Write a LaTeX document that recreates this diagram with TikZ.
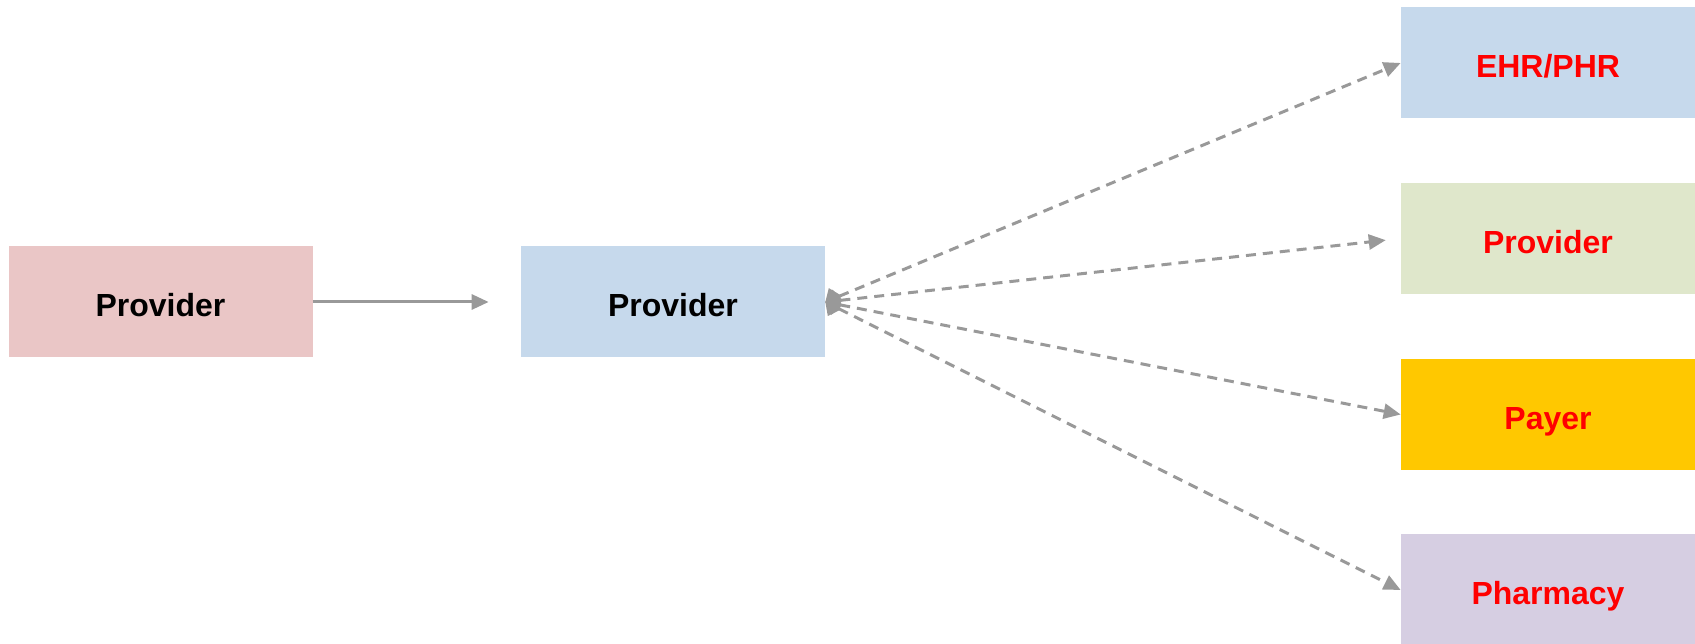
\documentclass[tikz,border=0pt]{standalone}
\usepackage{fontspec}
\setmainfont{Liberation Sans}
\usetikzlibrary{arrows.meta}

\definecolor{pinkfill}{HTML}{EAC6C6}
\definecolor{bluefill}{HTML}{C6D9EC}
\definecolor{greenfill}{HTML}{DFE7CB}
\definecolor{yellowfill}{HTML}{FFC800}
\definecolor{purplefill}{HTML}{D6CEE2}
\definecolor{arrowgray}{HTML}{999999}

\begin{document}
\begin{tikzpicture}
    % Define styles
    \tikzset{
        party/.style={draw=none, minimum width=6.08cm, minimum height=2.22cm, align=center, text height=0.6cm, text depth=0pt, font=\fontsize{18.2}{22}\selectfont\bfseries},
        target/.style={party, minimum width=5.88cm, text=red},
        flowarrow/.style={-{Triangle[length=0.34cm, width=0.3cm]}, draw=arrowgray, line width=1.7pt},
        linkarrow/.style={{Diamond[length=0.34cm, width=0.46cm]}-{Triangle[length=0.34cm, width=0.3cm]}, draw=arrowgray, line width=1.7pt, dash pattern=on 0.2cm off 0.14cm}
    }

    % Frame
    \useasboundingbox (0,0) rectangle (33.9,12.88);

    % Sender and hub
    \node[party, fill=pinkfill] (src) at (3.21,6.84) {Provider};
    \node[party, fill=bluefill] (prov) at (13.46,6.84) {Provider};

    % Receivers
    \node[target, fill=bluefill] (ehr) at (30.96,11.62) {EHR/PHR};
    \node[target, fill=greenfill] (rprov) at (30.96,8.11) {Provider};
    \node[target, fill=yellowfill] (payer) at (30.96,4.59) {Payer};
    \node[target, fill=purplefill] (pharm) at (30.96,1.08) {Pharmacy};

    % Arrows
    \draw[flowarrow, shorten >=0.64cm] (src) -- (prov);
    \draw[linkarrow] (prov.east) -- (ehr.west);
    \draw[linkarrow, shorten >=0.3cm] (prov.east) -- (rprov.west);
    \draw[linkarrow] (prov.east) -- (payer.west);
    \draw[linkarrow] (prov.east) -- (pharm.west);

\end{tikzpicture}
\end{document}
